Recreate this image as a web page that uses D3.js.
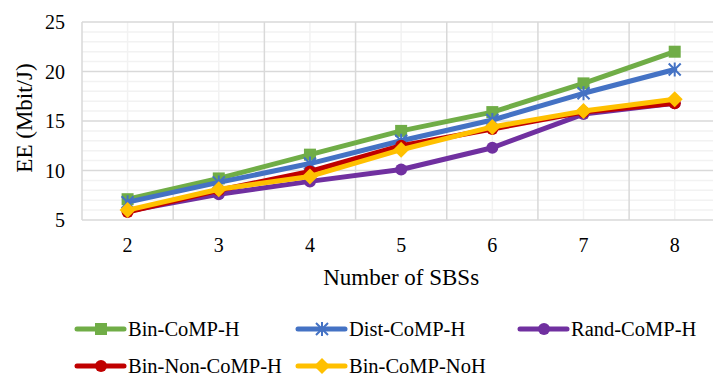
<!DOCTYPE html>
<html><head><meta charset="utf-8">
<script src="https://cdn.jsdelivr.net/npm/d3@7"></script>
<style>body{margin:0;background:#fff}svg{display:block}
svg text{font-family:"Liberation Serif","Times New Roman","DejaVu Serif",serif;fill:#000}</style>
</head><body>
<svg id="c" width="713" height="376"></svg>
<script>
const categories = ["2","3","4","5","6","7","8"];
const binCoMPH    = [7.1, 9.2, 11.6, 14.0, 15.9, 18.8, 22.0];
const distCoMPH   = [6.8, 8.8, 10.7, 13.0, 15.1, 17.8, 20.2];
const randCoMPH   = [5.9, 7.6, 8.9, 10.1, 12.3, 15.7, 16.8];
const binNonCoMPH = [5.8, 8.0, 9.9, 12.5, 14.2, 15.9, 16.8];
const binCoMPNoH  = [6.0, 8.1, 9.4, 12.1, 14.4, 16.0, 17.2];
const yTicks = [5, 10, 15, 20, 25];
const seriesNames = ["Bin-CoMP-H","Dist-CoMP-H","Rand-CoMP-H","Bin-Non-CoMP-H","Bin-CoMP-NoH"];

const series = [
  {name: seriesNames[0], values: binCoMPH,    color: "#70AD47", marker: "square"},
  {name: seriesNames[1], values: distCoMPH,   color: "#4472C4", marker: "star"},
  {name: seriesNames[2], values: randCoMPH,   color: "#7030A0", marker: "circle"},
  {name: seriesNames[3], values: binNonCoMPH, color: "#C00000", marker: "circle"},
  {name: seriesNames[4], values: binCoMPNoH,  color: "#FFC000", marker: "diamond"}
];

const svg = d3.select("#c");
const pL = 82, pR = 720.3, pT = 22, pB = 220;
const x = d3.scaleBand().domain(categories).range([pL, pR]).padding(0);
const y = d3.scaleLinear().domain([5, 25]).range([pB, pT]);

const g = svg.append("g");
const minorY = d3.range(6, 25).filter(v => v % 5 !== 0);
g.selectAll(".mh").data(minorY).enter().append("line")
  .attr("x1", pL).attr("x2", pR).attr("y1", d => y(d)).attr("y2", d => y(d))
  .attr("stroke", "#f2f2f2").attr("stroke-width", 1.5);
g.selectAll(".mv").data(categories).enter().append("line")
  .attr("x1", d => x(d) + x.bandwidth()/2).attr("x2", d => x(d) + x.bandwidth()/2)
  .attr("y1", pT).attr("y2", pB)
  .attr("stroke", "#f2f2f2").attr("stroke-width", 1.5);
g.selectAll(".Mh").data(yTicks).enter().append("line")
  .attr("x1", pL).attr("x2", pR).attr("y1", d => y(d)).attr("y2", d => y(d))
  .attr("stroke", "#d9d9d9").attr("stroke-width", 1.5);
const bounds = categories.map(c => x(c)).concat([pR]);
g.selectAll(".Mv").data(bounds).enter().append("line")
  .attr("x1", d => d).attr("x2", d => d).attr("y1", pT).attr("y2", pB)
  .attr("stroke", "#d9d9d9").attr("stroke-width", 1.5);

svg.selectAll(".yt").data(yTicks).enter().append("text")
  .attr("x", 65).attr("y", d => y(d) + 7).attr("text-anchor", "end")
  .attr("font-size", 20).text(d => d);
svg.selectAll(".xt").data(categories).enter().append("text")
  .attr("x", d => x(d) + x.bandwidth()/2).attr("y", 252).attr("text-anchor", "middle")
  .attr("font-size", 20).text(d => d);
svg.append("text").attr("x", (pL + pR)/2).attr("y", 285).attr("text-anchor", "middle")
  .attr("font-size", 23).text("Number of SBSs");
svg.append("text").attr("transform", "translate(32,118) rotate(-90)").attr("text-anchor", "middle")
  .attr("font-size", 23).text("EE (Mbit/J)");

function drawMarker(sel, type, color, cx, cy) {
  if (type === "square") {
    sel.append("rect").attr("x", cx - 6).attr("y", cy - 6).attr("width", 12).attr("height", 12).attr("fill", color);
  } else if (type === "circle") {
    sel.append("circle").attr("cx", cx).attr("cy", cy).attr("r", 6).attr("fill", color);
  } else if (type === "diamond") {
    sel.append("path").attr("d", `M${cx},${cy-8}L${cx+8},${cy}L${cx},${cy+8}L${cx-8},${cy}Z`).attr("fill", color);
  } else if (type === "star") {
    sel.append("path").attr("d", `M${cx-6},${cy-6}L${cx+6},${cy+6}M${cx-6},${cy+6}L${cx+6},${cy-6}M${cx},${cy-7}L${cx},${cy+7}`)
      .attr("stroke", color).attr("stroke-width", 2).attr("fill", "none");
  }
}

const line = d3.line().x((d, i) => x(categories[i]) + x.bandwidth()/2).y(d => y(d));
series.forEach(s => {
  const sg = svg.append("g");
  sg.append("path").datum(s.values).attr("d", line).attr("fill", "none")
    .attr("stroke", s.color).attr("stroke-width", 5).attr("stroke-linejoin", "round").attr("stroke-linecap", "round");
  s.values.forEach((v, i) => drawMarker(sg, s.marker, s.color, x(categories[i]) + x.bandwidth()/2, y(v)));
});

const legPos = [[77, 329], [298, 329], [520, 329], [77, 366], [298, 366]];
series.forEach((s, i) => {
  const [lx, ly] = legPos[i];
  const lg = svg.append("g");
  lg.append("line").attr("x1", lx).attr("x2", lx + 47).attr("y1", ly).attr("y2", ly)
    .attr("stroke", s.color).attr("stroke-width", 5).attr("stroke-linecap", "round");
  drawMarker(lg, s.marker, s.color, lx + 24, ly);
  lg.append("text").attr("x", lx + 51).attr("y", ly + 7).attr("font-size", 20.5).text(s.name);
});
</script>
</body></html>
